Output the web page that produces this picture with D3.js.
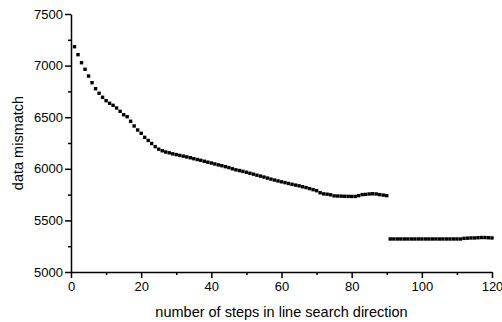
<!DOCTYPE html>
<html>
<head>
<meta charset="utf-8">
<script src="https://cdn.jsdelivr.net/npm/d3@7/dist/d3.min.js"></script>
<style>
  html, body { margin: 0; padding: 0; background: #fff; }
  svg { display: block; }
  text { font-family: "Liberation Sans", Arial, Helvetica, sans-serif; fill: #000; }
</style>
</head>
<body>
<svg id="chart" width="502" height="322"></svg>
<script>
// Data mismatch per step along the line search direction
const stepsA = d3.range(1, 91);
const mismatchA = [
  7183, 7106, 7028, 6964, 6899, 6834, 6776, 6732, 6693, 6660,
  6635, 6615, 6589, 6557, 6524, 6505, 6460, 6415, 6376, 6344,
  6305, 6275, 6245, 6215, 6190, 6175, 6163, 6155, 6145, 6138,
  6130, 6123, 6115, 6107, 6098, 6090, 6082, 6073, 6064, 6056,
  6047, 6038, 6030, 6021, 6012, 6000, 5990, 5983, 5975, 5966,
  5957, 5948, 5938, 5929, 5920, 5910, 5900, 5891, 5882, 5874,
  5866, 5858, 5850, 5842, 5835, 5826, 5818, 5808, 5798, 5788,
  5768, 5757, 5754, 5748, 5738, 5736, 5735, 5734, 5733, 5732,
  5732, 5740, 5750, 5752, 5756, 5758, 5756, 5750, 5745, 5740
];
const stepsB = d3.range(91, 121);
const mismatchB = [
  5320, 5320, 5320, 5320, 5320, 5320, 5320, 5320, 5320, 5320,
  5320, 5320, 5320, 5320, 5320, 5320, 5320, 5320, 5320, 5320,
  5320, 5326, 5328, 5330, 5330, 5332, 5334, 5334, 5332, 5330
];
const xTicks = [0, 20, 40, 60, 80, 100, 120];
const yTicks = [5000, 5500, 6000, 6500, 7000, 7500];
const xLabel = "number of steps in line search direction";
const yLabel = "data mismatch";

const points = stepsA.map((s, i) => ({ x: s, y: mismatchA[i] }))
  .concat(stepsB.map((s, i) => ({ x: s, y: mismatchB[i] })));

const svg = d3.select("#chart");
const plot = { left: 71, right: 492, top: 14, bottom: 272 };

const x = d3.scaleLinear().domain([0, 120]).range([plot.left, plot.right]);
const y = d3.scaleLinear().domain([5000, 7500]).range([plot.bottom, plot.top]);

// minor ticks
const xMinor = d3.range(10, 120, 20);
const yMinor = d3.range(5250, 7500, 500);

const gx = svg.append("g").attr("transform", `translate(0,${plot.bottom})`);
gx.call(d3.axisBottom(x).tickValues(xTicks).tickFormat(d3.format("d"))
  .tickSize(6).tickPadding(4).tickSizeOuter(0));
gx.append("g").call(d3.axisBottom(x).tickValues(xMinor).tickSize(3).tickFormat("").tickSizeOuter(0))
  .select(".domain").remove();

const gy = svg.append("g").attr("transform", `translate(${plot.left},0)`);
gy.call(d3.axisLeft(y).tickValues(yTicks).tickFormat(d3.format("d"))
  .tickSize(6).tickPadding(2).tickSizeOuter(0));
gy.append("g").call(d3.axisLeft(y).tickValues(yMinor).tickSize(3).tickFormat("").tickSizeOuter(0))
  .select(".domain").remove();

svg.selectAll(".domain, .tick line").attr("stroke", "#000").attr("stroke-width", 1.5);
svg.selectAll(".tick text").attr("font-size", 13).attr("font-family", "Liberation Sans, Arial, sans-serif");

// markers
const size = 3.4;
svg.append("g").selectAll("rect").data(points).join("rect")
  .attr("x", d => x(d.x) - size / 2)
  .attr("y", d => y(d.y) - size / 2)
  .attr("width", size).attr("height", size)
  .attr("fill", "#000");

svg.append("text")
  .attr("x", (plot.left + plot.right) / 2).attr("y", 317)
  .attr("text-anchor", "middle").attr("font-size", 14.5)
  .text(xLabel);

svg.append("text")
  .attr("transform", `translate(23,${(plot.top + plot.bottom) / 2}) rotate(-90)`)
  .attr("text-anchor", "middle").attr("font-size", 14.5)
  .text(yLabel);
</script>
</body>
</html>
